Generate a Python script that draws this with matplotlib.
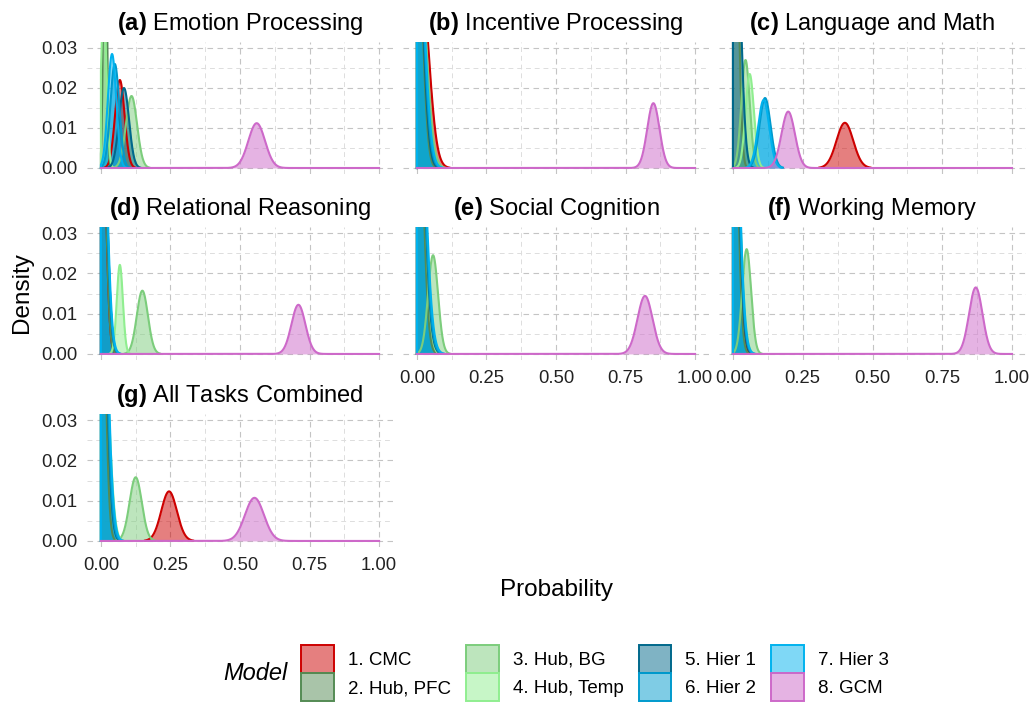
import matplotlib
matplotlib.use('Agg')
import matplotlib.pyplot as plt
from matplotlib.patches import Patch
import numpy as np

plt.rcParams['font.family'] = ['Liberation Sans', 'DejaVu Sans']
plt.rcParams['mathtext.fontset'] = 'custom'
plt.rcParams['mathtext.bf'] = 'Liberation Sans:bold'
plt.rcParams['mathtext.rm'] = 'Liberation Sans'

W, H = 1031, 706

MODELS = ['1. CMC', '2. Hub, PFC', '3. Hub, BG', '4. Hub, Temp',
          '5. Hier 1', '6. Hier 2', '7. Hier 3', '8. GCM']
COLORS = ['#CD0000', '#548B54', '#7CCD7C', '#90EE90',
          '#00688B', '#009ACD', '#00B2EE', '#CD69C9']

PANEL_TAGS = ['(a)', '(b)', '(c)', '(d)', '(e)', '(f)', '(g)']
PANEL_NAMES = ['Emotion Processing', 'Incentive Processing', 'Language and Math',
               'Relational Reasoning', 'Social Cognition', 'Working Memory',
               'All Tasks Combined']

# posterior peak location, peak density and spread per model
# order: CMC, Hub PFC, Hub BG, Hub Temp, Hier 1, Hier 2, Hier 3, GCM
PEAK_X = [
    [0.068, 0.015, 0.110, 0.010, 0.083, 0.050, 0.040, 0.560],
    [0.011, 0.000, 0.005, 0.000, 0.000, 0.000, 0.002, 0.850],
    [0.401, 0.010, 0.045, 0.060, 0.012, 0.115, 0.110, 0.198],
    [0.000, 0.000, 0.149, 0.068, 0.000, 0.000, 0.000, 0.710],
    [0.010, 0.000, 0.058, 0.010, 0.000, 0.000, 0.002, 0.820],
    [0.000, 0.000, 0.049, 0.005, 0.000, 0.000, 0.000, 0.870],
    [0.245, 0.000, 0.125, 0.010, 0.000, 0.000, 0.002, 0.552],
]
PEAK_Y = [
    [0.0220, 0.0800, 0.0180, 0.0400, 0.0200, 0.0260, 0.0285, 0.0112],
    [0.0500, 0.0600, 0.0550, 0.0600, 0.0600, 0.0600, 0.0600, 0.0162],
    [0.0113, 0.0600, 0.0270, 0.0235, 0.0600, 0.0175, 0.0170, 0.0141],
    [0.0800, 0.0800, 0.0157, 0.0221, 0.0800, 0.0800, 0.0800, 0.0122],
    [0.0600, 0.0800, 0.0245, 0.0600, 0.0800, 0.0800, 0.0800, 0.0144],
    [0.0800, 0.0800, 0.0260, 0.0600, 0.0800, 0.0800, 0.0800, 0.0165],
    [0.0123, 0.0800, 0.0158, 0.0500, 0.0800, 0.0800, 0.0800, 0.0107],
]
SPREAD = [
    [0.017, 0.006, 0.020, 0.010, 0.018, 0.016, 0.015, 0.030],
    [0.030, 0.020, 0.027, 0.025, 0.022, 0.024, 0.025, 0.022],
    [0.030, 0.012, 0.015, 0.015, 0.017, 0.020, 0.020, 0.024],
    [0.015, 0.015, 0.020, 0.011, 0.018, 0.018, 0.019, 0.025],
    [0.020, 0.020, 0.018, 0.020, 0.024, 0.025, 0.026, 0.027],
    [0.018, 0.016, 0.016, 0.020, 0.019, 0.020, 0.021, 0.024],
    [0.028, 0.015, 0.022, 0.020, 0.019, 0.020, 0.021, 0.034],
]

# panel grid: (row, col), pixel boxes
POS = [(0, 0), (0, 1), (0, 2), (1, 0), (1, 1), (1, 2), (2, 0)]
COL_X = [(87, 393), (403, 709), (719, 1026)]
ROW_Y = [(42, 174), (227, 360), (414, 547)]
SHOW_X = [False, False, False, False, True, True, True]

fig = plt.figure(figsize=(W / 100, H / 100), dpi=100)


def px_axes(left, top, right, bottom):
    return fig.add_axes([left / W, 1 - bottom / H, (right - left) / W, (bottom - top) / H])


x = np.linspace(0, 1, 1501)
last = len(MODELS) - 1
for p, (r, c) in enumerate(POS):
    ax = px_axes(COL_X[c][0], ROW_Y[r][0], COL_X[c][1], ROW_Y[r][1])
    for m in range(len(MODELS)):
        y = PEAK_Y[p][m] * np.exp(-0.5 * ((x - PEAK_X[p][m]) / SPREAD[p][m]) ** 2)
        xs = np.concatenate([[0], x])
        ys = np.concatenate([[0], y])
        ax.fill_between(xs, ys, 0, color=COLORS[m], alpha=0.5, lw=0)
        # the last-drawn density (GCM) owns the zero line, as in the original
        line_y = ys if m == last else np.where(ys > 1e-4, ys, np.nan)
        if m != last:
            line_y[0] = np.nan if ys[1] <= 1e-4 else 0
        ax.plot(xs, line_y, color=COLORS[m], lw=1.5)
    ax.set_xlim(-0.05, 1.05)
    ax.set_ylim(-0.0015, 0.0315)
    ax.set_xticks([0, 0.25, 0.5, 0.75, 1.0])
    ax.set_xticks([0.125, 0.375, 0.625, 0.875], minor=True)
    ax.set_yticks([0, 0.01, 0.02, 0.03])
    ax.set_yticks([0.005, 0.015, 0.025], minor=True)
    ax.grid(True, which='major', color='#C4C4C4', ls=(0, (5, 4)), lw=0.8)
    ax.grid(True, which='minor', color='#DDDDDD', ls=(0, (5, 4)), lw=0.7)
    ax.set_axisbelow(True)
    for s in ax.spines.values():
        s.set_visible(False)
    ax.tick_params(which='both', length=0, labelsize=13.3, colors='#222222')
    ax.tick_params(axis='x', pad=7)
    ax.tick_params(axis='y', pad=7)
    ax.set_xticklabels(['0.00', '0.25', '0.50', '0.75', '1.00'])
    ax.set_yticklabels(['0.00', '0.01', '0.02', '0.03'])
    if not SHOW_X[p]:
        ax.tick_params(axis='x', labelbottom=False)
    if c != 0:
        ax.tick_params(axis='y', labelleft=False)
    ax.set_title(r'$\mathbf{' + PANEL_TAGS[p] + '}$ ' + PANEL_NAMES[p],
                 fontsize=17, pad=8.5)

fig.text(22 / W, 1 - 293 / H, 'Density', rotation=90, fontsize=17.5,
         ha='center', va='center')
fig.text(556 / W, 1 - 590 / H, 'Probability', fontsize=17.5,
         ha='center', va='center')
fig.text(288 / W, 1 - 673 / H, 'Model', fontsize=17, style='italic',
         ha='right', va='center')

handles = [Patch(facecolor=matplotlib.colors.to_rgba(col, 0.5), edgecolor=col, lw=1.4)
           for col in COLORS]
fig.legend(handles, MODELS, ncol=4, loc='center left',
           bbox_to_anchor=(301 / W, 1 - 673 / H), frameon=False, fontsize=13.5,
           handlelength=1.75, handleheight=1.9, handletextpad=0.75,
           columnspacing=0.8, labelspacing=0.05, borderpad=0, borderaxespad=0)

fig.savefig('out.png', dpi=100)
